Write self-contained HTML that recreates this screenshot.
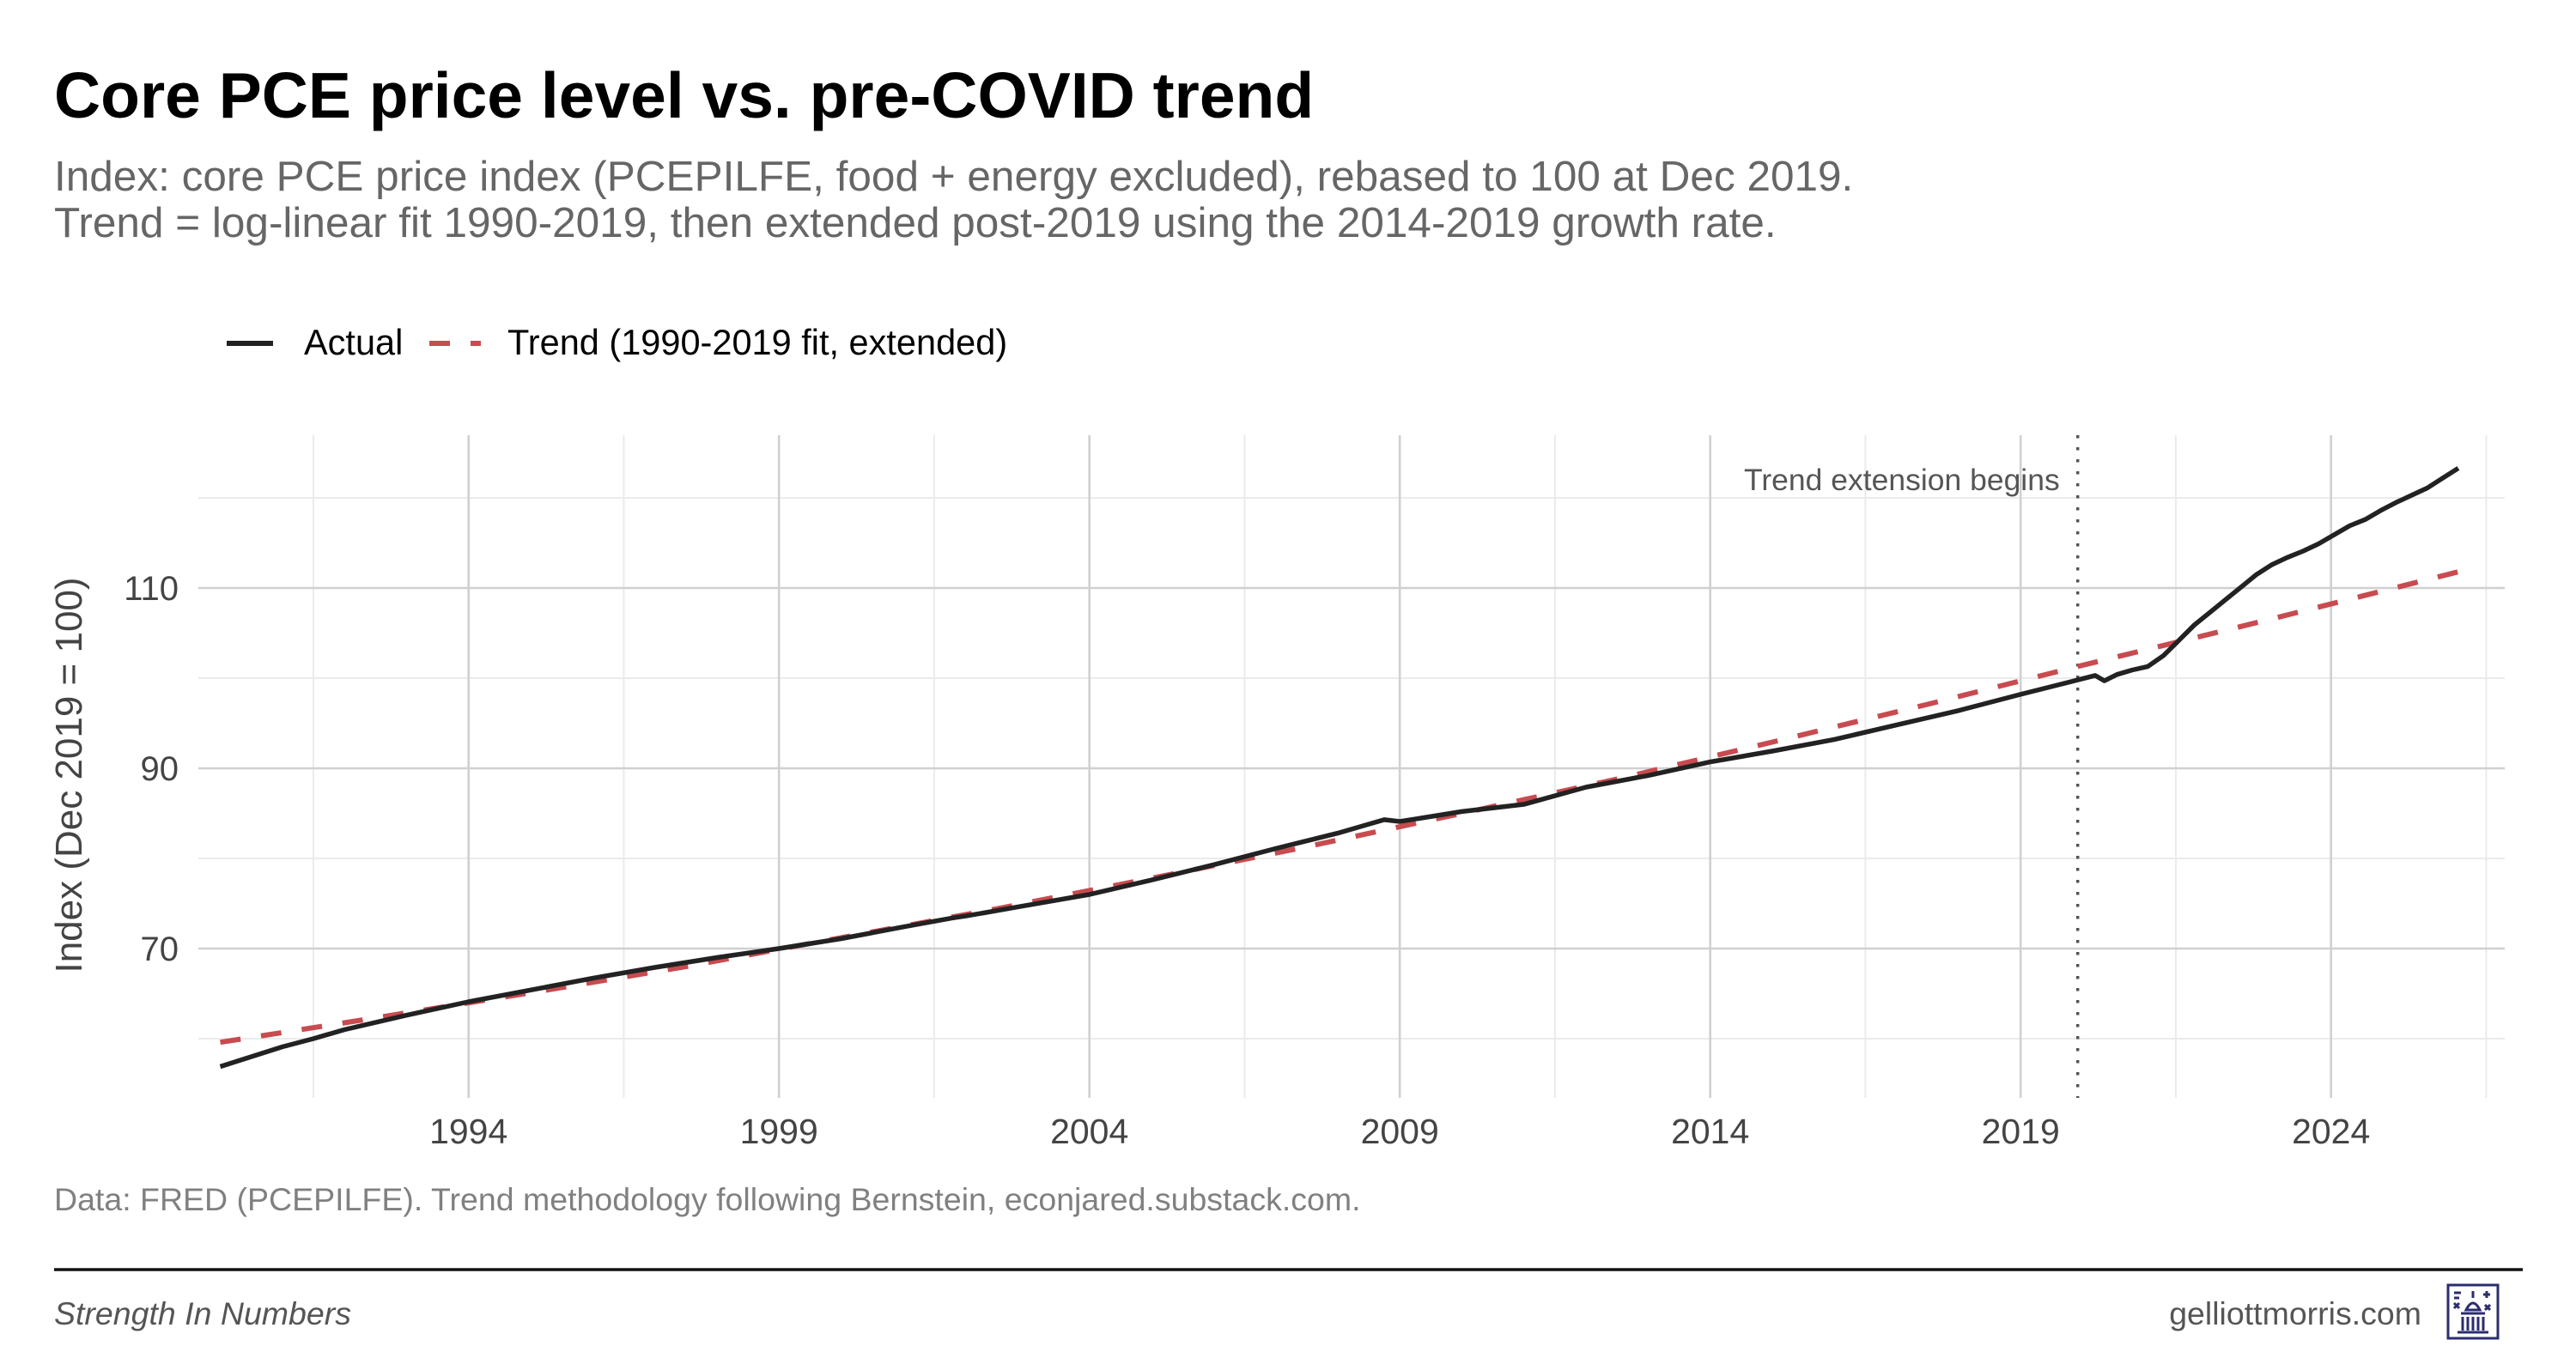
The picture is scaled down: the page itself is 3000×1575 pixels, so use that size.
<!DOCTYPE html>
<html><head><meta charset="utf-8">
<style>
html,body{margin:0;padding:0;background:#fff;}
body{width:3000px;height:1575px;overflow:hidden;font-family:"Liberation Sans",Arial,sans-serif;}
svg{display:block;}
</style></head>
<body>
<svg id="chart" width="3000" height="1575" viewBox="0 0 3000 1575" xmlns="http://www.w3.org/2000/svg" font-family="Liberation Sans, Arial, sans-serif">
<rect x="0" y="0" width="3000" height="1575" fill="#fff"/>
<text x="63" y="137" font-size="75" font-weight="bold" fill="#000">Core PCE price level vs. pre-COVID trend</text>
<text x="63" y="222" font-size="49.5" fill="#666">Index: core PCE price index (PCEPILFE, food + energy excluded), rebased to 100 at Dec 2019.</text>
<text x="63" y="276" font-size="49.5" fill="#666">Trend = log-linear fit 1990-2019, then extended post-2019 using the 2014-2019 growth rate.</text>
<g>
<g>
<line x1="264" y1="400" x2="318" y2="400" stroke="#222" stroke-width="6"/>
<text x="354" y="413" font-size="41.5" fill="#000">Actual</text>
</g>
<g>
<line x1="500" y1="400" x2="560" y2="400" stroke="#c84b50" stroke-width="6" stroke-dasharray="24 24"/>
<text x="591" y="413" font-size="41.5" fill="#000">Trend (1990-2019 fit, extended)</text>
</g>
</g>
<g id="grid"></g>
<g id="axes"></g>
<g id="series"></g>
<text transform="translate(95,903) rotate(-90)" text-anchor="middle" font-size="44" fill="#444">Index (Dec 2019 = 100)</text>
<text x="63" y="1410" font-size="37.5" fill="#808080">Data: FRED (PCEPILFE). Trend methodology following Bernstein, econjared.substack.com.</text>
<line x1="63" y1="1479" x2="2938" y2="1479" stroke="#111" stroke-width="3.5"/>
<text x="63" y="1543" font-size="37.5" font-style="italic" fill="#555">Strength In Numbers</text>
<text x="2820" y="1543" text-anchor="end" font-size="37.5" fill="#555">gelliottmorris.com</text>
<g transform="translate(2850,1496)" fill="none" stroke="#2b2d6e" stroke-width="3">
<rect x="1" y="1" width="58" height="62"/>
<path d="M30 8 L30 16 M22 30 Q30 14 38 30 Z M16 34 L44 34 M18 38 L18 54 M24 38 L24 54 M30 38 L30 54 M36 38 L36 54 M42 38 L42 54 M12 56 L48 56" />
<path d="M8 10 L16 10 M8 16 L14 16 M46 8 L46 16 M42 12 L50 12 M8 22 L14 28 M14 22 L8 28 M44 24 L50 30 M50 24 L44 30"/>
</g>
</svg>
<script>
// ---- data ----
const actualDates = [1990,1991,1991.5,1992,1993,1994,1995,1996,1997,1998,1999,2000,2001,2001.8,2002,2003,2004,2005,2006,2007,2008,2008.75,2009,2010,2011,2012,2013,2014,2015,2016,2017,2018,2019,2019.92,2020.2,2020.35,2020.55,2020.8,2021.05,2021.3,2021.55,2021.8,2022.05,2022.3,2022.55,2022.8,2023.05,2023.3,2023.55,2023.8,2024.05,2024.3,2024.55,2024.8,2025.05,2025.3,2025.55,2025.8,2026.05];
const actualValues = [56.9,59.1,60.0,61.0,62.6,64.1,65.4,66.7,67.9,69.0,70.0,71.1,72.4,73.4,73.6,74.8,76.0,77.6,79.3,81.1,82.8,84.3,84.1,85.2,86.0,87.9,89.2,90.7,91.9,93.2,94.8,96.4,98.2,99.8,100.3,99.7,100.4,100.9,101.3,102.5,104.2,105.9,107.3,108.7,110.1,111.5,112.6,113.4,114.1,114.9,115.9,116.9,117.6,118.6,119.5,120.3,121.1,122.2,123.3];
const trendDates = [1990,1992.5,1995,1997.5,2000,2002.5,2005,2007.5,2010,2012.5,2015,2017.5,2019.92,2023,2026.05];
const trendValues = [59.6,62.3,65.1,68.0,71.2,74.4,77.8,81.3,85.0,88.8,92.9,97.1,101.3,106.5,111.8];
const xMajorTicks = [1994,1999,2004,2009,2014,2019,2024];
const xMinorTicks = [1991.5,1996.5,2001.5,2006.5,2011.5,2016.5,2021.5,2026.5];
const yMajorTicks = [70,90,110];
const yMinorTicks = [60,80,100,120];
const extensionStart = 2019.92;

// ---- scales ----
const PL=231, PR=2917, PT=507, PB=1279;
function xs(yr){ return 256.5 + (yr-1990)*72.3; }
function ys(v){ return 1105 - (v-70)*10.5; }
const NS='http://www.w3.org/2000/svg';
function mk(tag, attrs, parent){ const e=document.createElementNS(NS,tag); for(const k in attrs) e.setAttribute(k,attrs[k]); parent.appendChild(e); return e; }
const grid=document.getElementById('grid'), axes=document.getElementById('axes'), series=document.getElementById('series');

yMinorTicks.forEach(v=>{
  const l=mk('line',{x1:PL,x2:PR,y1:ys(v),y2:ys(v),stroke:'#ebebeb','stroke-width':2},grid);
  
  
});
xMinorTicks.forEach(t=>{
  const l=mk('line',{x1:xs(t),x2:xs(t),y1:PT,y2:PB,stroke:'#ebebeb','stroke-width':2},grid);
  
  
});
yMajorTicks.forEach(v=>{
  const l=mk('line',{x1:PL,x2:PR,y1:ys(v),y2:ys(v),stroke:'#d0d0d0','stroke-width':2.6},grid);
  
  
  const t=mk('text',{x:208,y:ys(v)+14,'text-anchor':'end','font-size':40,fill:'#444'},axes);
  t.textContent=v;
  
  
});
xMajorTicks.forEach(yr=>{
  const l=mk('line',{x1:xs(yr),x2:xs(yr),y1:PT,y2:PB,stroke:'#d0d0d0','stroke-width':2.6},grid);
  
  
  const t=mk('text',{x:xs(yr),y:1332,'text-anchor':'middle','font-size':41,fill:'#444'},axes);
  t.textContent=yr;
  
  
});

// extension marker
const vx=xs(extensionStart);
const vl=mk('line',{x1:vx,x2:vx,y1:PT,y2:PB,stroke:'#555','stroke-width':3.5,'stroke-dasharray':'3.5 10.5'},series);


const vt=mk('text',{x:vx-21,y:571,'text-anchor':'end','font-size':35.5,fill:'#555'},series);
vt.textContent='Trend extension begins';



function pathFrom(ds,vs){ return ds.map((d,i)=>(i?'L':'M')+xs(d).toFixed(1)+' '+ys(vs[i]).toFixed(1)).join(' '); }
const tp=mk('path',{d:pathFrom(trendDates,trendValues),fill:'none',stroke:'#c84b50','stroke-width':6,'stroke-dasharray':'24 24'},series);


const ap=mk('path',{d:pathFrom(actualDates,actualValues),fill:'none',stroke:'#222','stroke-width':5.5,'stroke-linejoin':'round'},series);


</script>
</body></html>
